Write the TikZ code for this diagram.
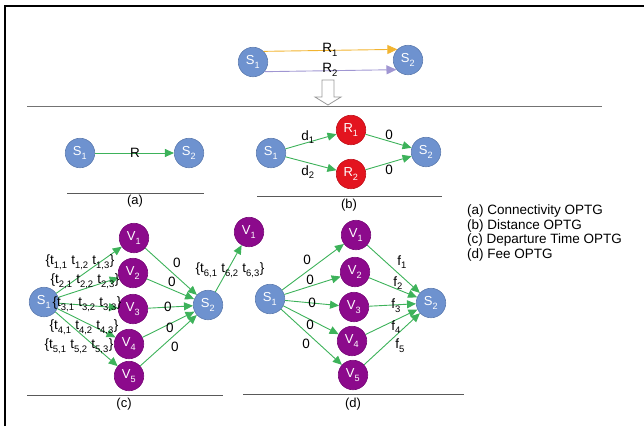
\documentclass[tikz,border=0pt]{standalone}
\usepackage{fontspec}
\setmainfont{Liberation Sans}
\usepackage{tikz}
\usetikzlibrary{positioning, arrows.meta, calc}
\definecolor{sblue}{HTML}{6E92CF}
\definecolor{vpurple}{HTML}{8C0A8C}
\definecolor{rred}{HTML}{E3141F}
\definecolor{agreen}{HTML}{3DB25A}
\definecolor{rorange}{HTML}{F2B430}
\definecolor{rlilac}{HTML}{A096D2}
\newcommand{\lsub}[1]{\raisebox{-1.6pt}{\textsubscript{#1}}}
\tikzset{
  circ/.style={circle, minimum size=29.5pt, inner sep=0pt, text=white,
               font=\fontsize{13}{13}\selectfont},
  snode/.style={circ, fill=sblue, draw=sblue!85!black, line width=0.6pt},
  vnode/.style={circ, fill=vpurple, draw=vpurple!85!black, line width=0.6pt},
  rnode/.style={circ, fill=rred, draw=rred!85!black, line width=0.6pt},
  garr/.style={-{Triangle[length=9pt,width=8pt]}, draw=agreen, line width=0.9pt},
  elab/.style={inner sep=0pt, font=\fontsize{13.5}{13.5}\selectfont},
  tlab/.style={inner sep=0pt, font=\fontsize{13.5}{13.5}\selectfont},
  sepline/.style={draw=black!65, line width=0.9pt},
  caption/.style={inner sep=0pt, font=\fontsize{13}{13}\selectfont},
}

\begin{document}
\begin{tikzpicture}[x=1pt, y=-1pt]
  \useasboundingbox (0,0) rectangle (644,426);

  % --- frame ---------------------------------------------------------
  \draw[line width=2pt] (4.5,426) -- (4.5,6) -- (644,6);

  % --- road network --------------------------------------------------
  \node[snode] (ts1) at (253,62) {S\lsub{1}};
  \node[snode] (ts2) at (408,60) {S\lsub{2}};
  \draw[-{Triangle[length=10pt,width=9pt]}, draw=rorange, line width=0.9pt] (ts1.45) -- (ts2.135);
  \draw[-{Triangle[length=10pt,width=9pt]}, draw=rlilac, line width=0.9pt] (ts1.-40) -- (ts2.-140);
  \node[elab] (tr1) at (330,50) {R\lsub{1}};
  \node[elab] (tr2) at (330,70) {R\lsub{2}};

  % hollow arrow and separator
  \draw[black!40, fill=white, line width=0.8pt]
        (322,80) -- (334,80) -- (334,97) -- (341,97) -- (328,105) -- (315,97) -- (322,97) -- cycle;
  \draw[black!55, line width=1.2pt] (27,106.5) -- (602,106.5);

  % --- (a) connectivity ----------------------------------------------
  \node[snode] (as1) at (80,153) {S\lsub{1}};
  \node[snode] (as2) at (189,153) {S\lsub{2}};
  \draw[garr] (as1) -- (as2);
  \node[elab] (ar) at (135,153) {R};
  \draw[sepline] (67,193) -- (204,193);
  \node[caption] (acap) at (135,201) {(a)};

  % --- (b) distance --------------------------------------------------
  \node[snode] (bs1) at (271,153) {S\lsub{1}};
  \node[rnode] (br1) at (351,130) {R\lsub{1}};
  \node[rnode] (br2) at (351,174) {R\lsub{2}};
  \node[snode] (bs2) at (426,152) {S\lsub{2}};
  \draw[garr] (bs1) -- (br1);
  \draw[garr] (bs1) -- (br2);
  \draw[garr] (br1) -- (bs2);
  \draw[garr] (br2) -- (bs2);
  \node[elab] (bd1) at (308,137) {d\lsub{1}};
  \node[elab] (bd2) at (308,172) {d\lsub{2}};
  \node[elab] (bz1) at (389,135) {0};
  \node[elab] (bz2) at (389,170) {0};
  \draw[sepline] (257,196) -- (442,196);
  \node[caption] (bcap) at (349,205) {(b)};

  % --- legend --------------------------------------------------------
  \node[anchor=north west, inner sep=0pt, align=left,
        font=\fontsize{13.5}{14.4}\selectfont] (legend) at (467,205)
        {(a) Connectivity OPTG\\(b) Distance OPTG\\(c) Departure Time OPTG\\(d) Fee OPTG};

  % --- (c) departure time --------------------------------------------
  \node[snode] (cs1) at (44,302) {S\lsub{1}};
  \node[snode] (cs2) at (208,305) {S\lsub{2}};
  \foreach \i/\x/\y in {1/134/238, 2/133/273, 3/133/309, 4/129/344, 5/129/376}
    \node[vnode] (cv\i) at (\x,\y) {V\lsub{\i}};
  \node[vnode] (cv6) at (249,232) {V\lsub{1}};
  \foreach \i in {1,...,5} {
    \draw[garr] (cs1) -- (cv\i);
    \draw[garr] (cv\i) -- (cs2);
  }
  \draw[garr] (cs2) -- (cv6);
  \foreach \i/\x/\y in {1/80/262, 2/85/281, 3/87/304, 4/84/327, 5/79/346, 6/230/270}
    \node[tlab] (ct\i) at (\x,\y)
      {\{t\lsub{\i,1} t\lsub{\i,2} t\lsub{\i,3}\}};
  \foreach \i/\x/\y in {1/177/263, 2/172/282, 3/168/307, 4/170/328, 5/175/347}
    \node[elab] (cz\i) at (\x,\y) {0};
  \draw[sepline] (27,395) -- (223,395);
  \node[caption] (ccap) at (124,404) {(c)};

  % --- (d) fee -------------------------------------------------------
  \node[snode] (ds1) at (270,299) {S\lsub{1}};
  \node[snode] (ds2) at (431,303) {S\lsub{2}};
  \foreach \i/\x/\y in {1/356/235, 2/355/272, 3/354/307, 4/352/341, 5/353/375}
    \node[vnode] (dv\i) at (\x,\y) {V\lsub{\i}};
  \foreach \i in {1,...,5} {
    \draw[garr] (ds1) -- (dv\i);
    \draw[garr] (dv\i) -- (ds2);
  }
  \foreach \i/\x/\y in {1/307/260, 2/310/280, 3/312/303, 4/310/325, 5/306/344}
    \node[elab] (dz\i) at (\x,\y) {0};
  \foreach \i/\x/\y in {1/402/262, 2/398/283, 3/396/306, 4/396/327, 5/400/346}
    \node[elab] (df\i) at (\x,\y) {f\lsub{\i}};
  \draw[sepline] (243,394) -- (464,394);
  \node[caption] (dcap) at (353,404) {(d)};

\end{tikzpicture}
\end{document}
